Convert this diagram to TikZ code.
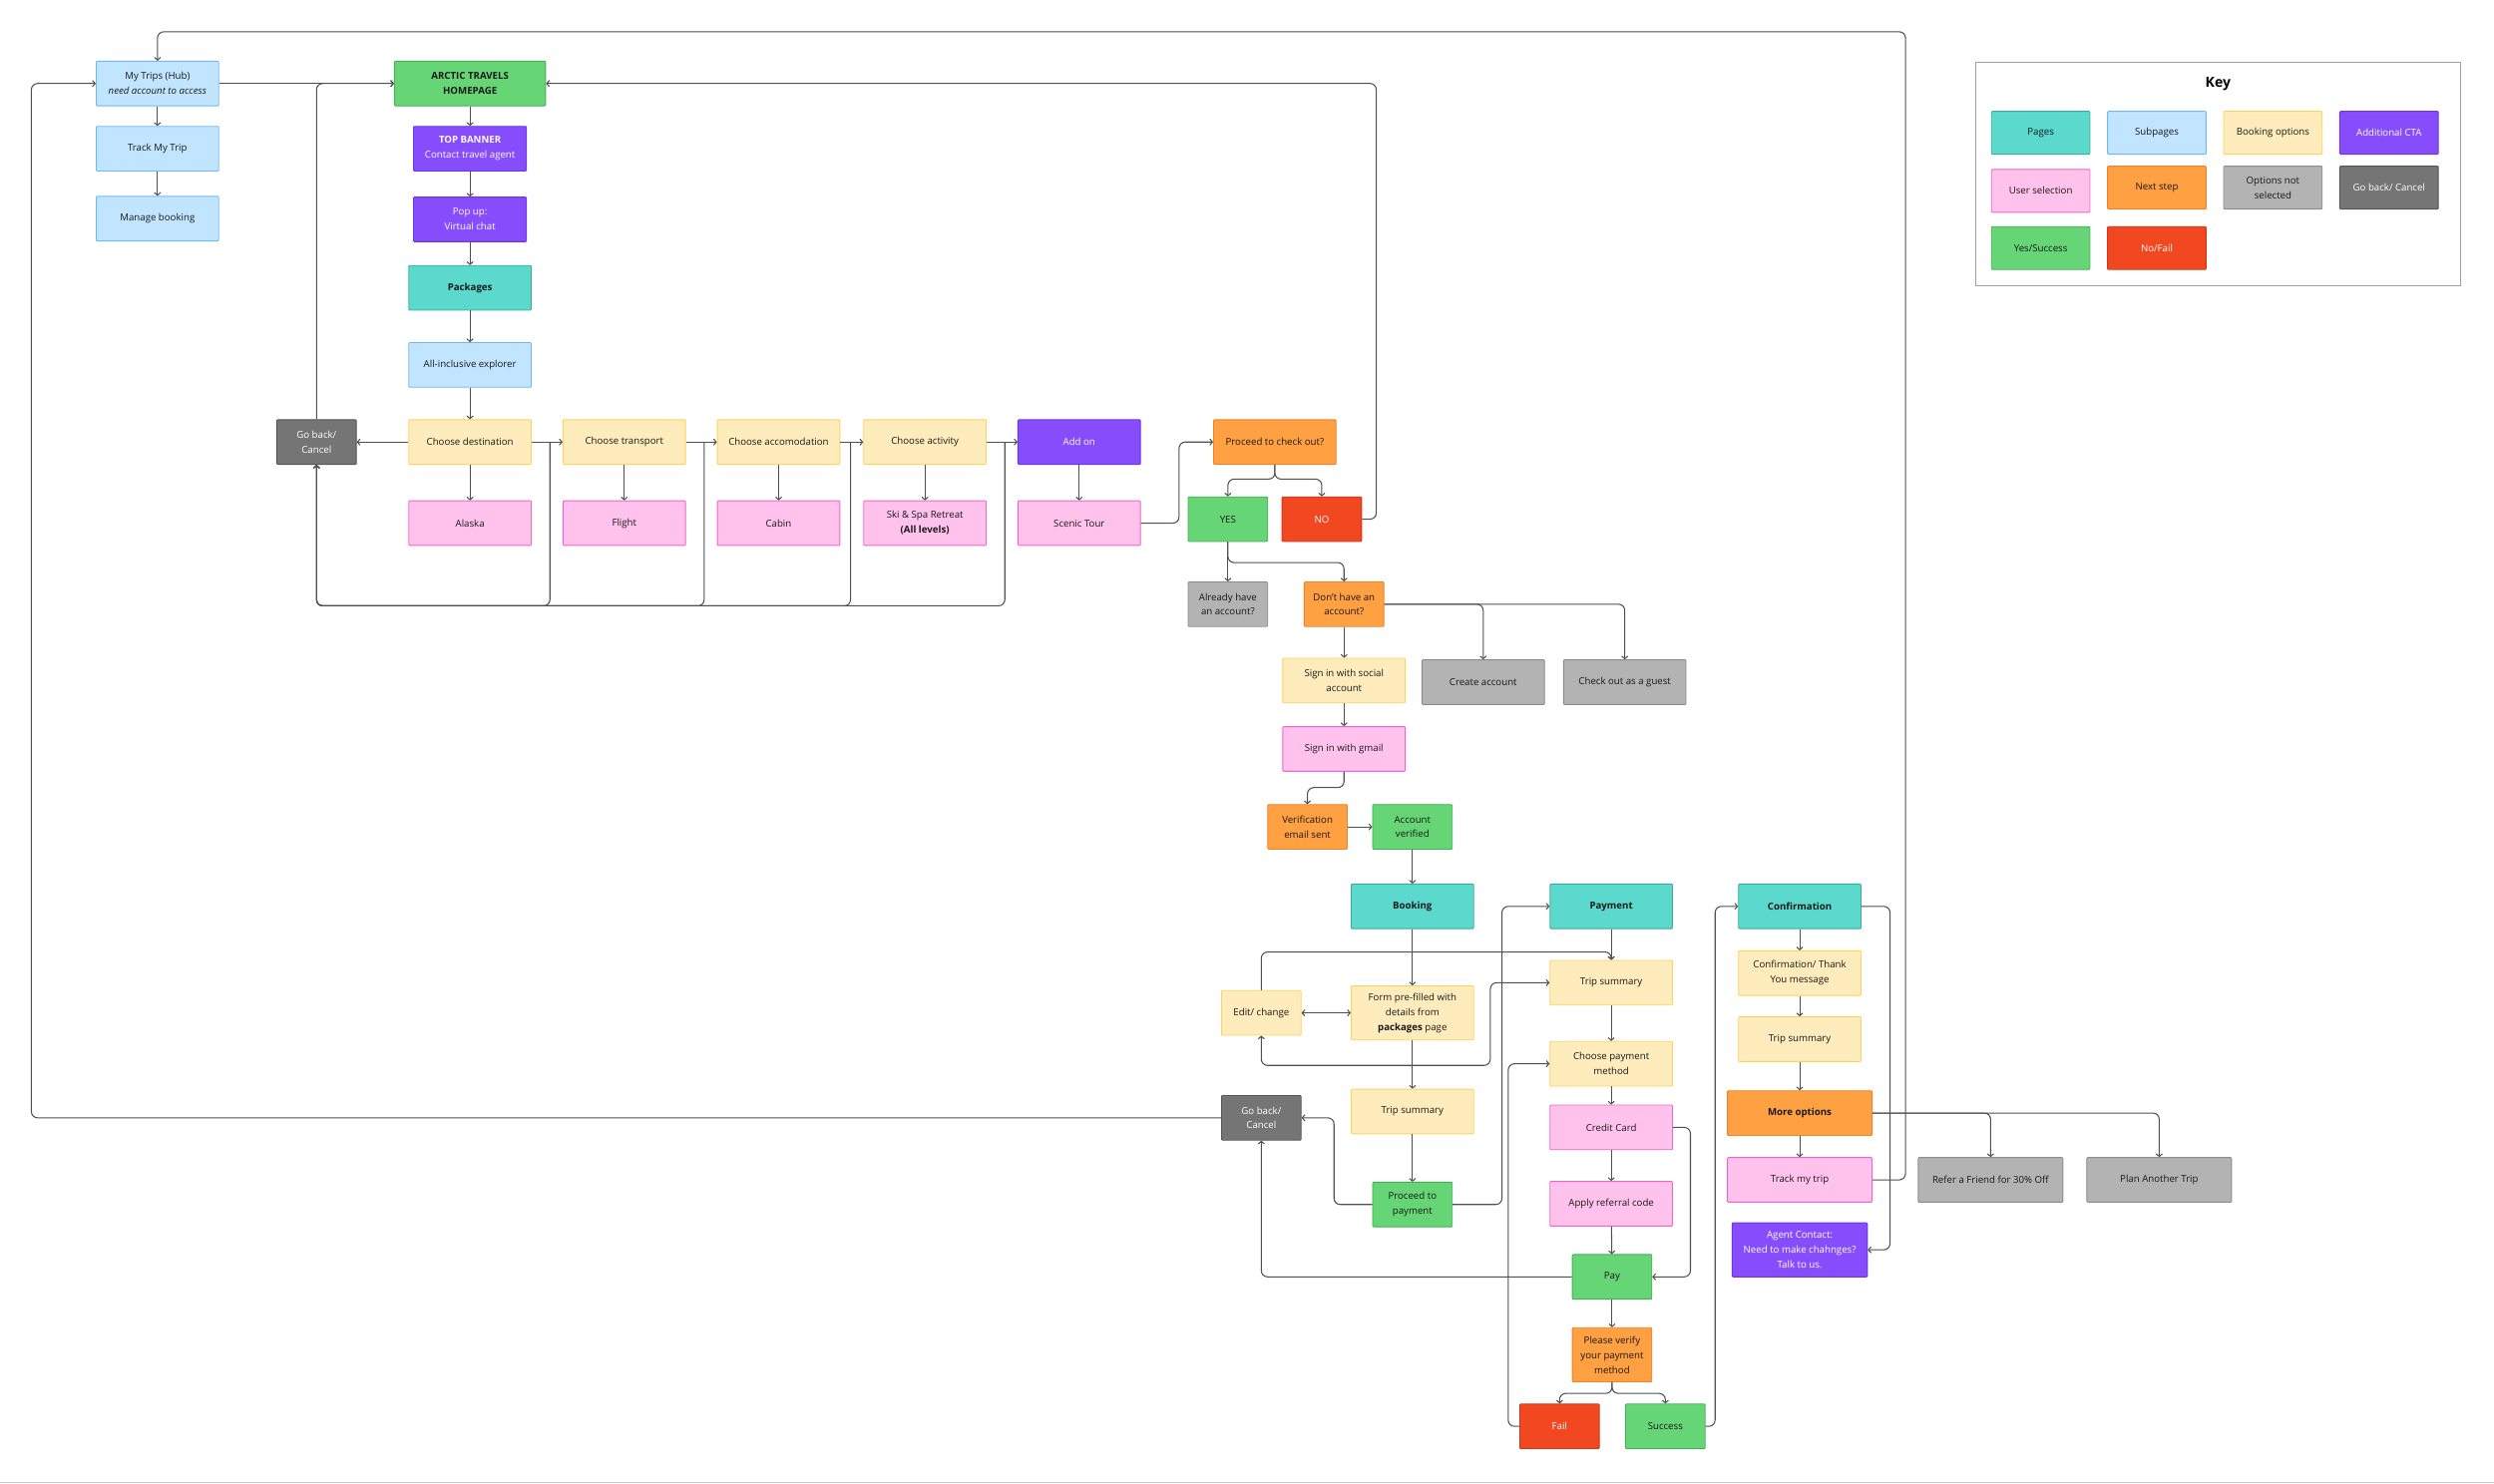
\documentclass[tikz,border=0pt]{standalone}
\usepackage{fontspec}
\setmainfont{Open Sans}
\usetikzlibrary{arrows.meta, positioning, calc}
\definecolor{pagefill}{RGB}{90, 217, 204}
\definecolor{pageline}{RGB}{60, 170, 160}
\definecolor{subfill}{RGB}{194, 229, 255}
\definecolor{subline}{RGB}{110, 185, 245}
\definecolor{optfill}{RGB}{255, 236, 189}
\definecolor{optline}{RGB}{255, 210, 90}
\definecolor{ctafill}{RGB}{135, 76, 252}
\definecolor{ctaline}{RGB}{110, 55, 220}
\definecolor{selfill}{RGB}{255, 194, 236}
\definecolor{selline}{RGB}{240, 100, 200}
\definecolor{nextfill}{RGB}{255, 160, 67}
\definecolor{nextline}{RGB}{240, 130, 40}
\definecolor{notfill}{RGB}{179, 179, 179}
\definecolor{notline}{RGB}{140, 140, 140}
\definecolor{backfill}{RGB}{117, 117, 117}
\definecolor{backline}{RGB}{85, 85, 85}
\definecolor{yesfill}{RGB}{102, 213, 117}
\definecolor{yesline}{RGB}{70, 175, 85}
\definecolor{nofill}{RGB}{242, 72, 34}
\definecolor{noline}{RGB}{210, 55, 25}
\definecolor{linegray}{RGB}{80, 80, 80}
\definecolor{keyline}{RGB}{160, 160, 160}
\definecolor{textdark}{RGB}{25, 25, 25}
\newcommand{\boxfont}{\fontsize{11}{17}\selectfont}
\tikzstyle{base} = [rectangle, rounded corners=1pt, minimum width=4.91cm, minimum height=1.79cm, text centered, align=center, line width=1pt, inner sep=1pt, font=\boxfont, text=textdark]
\tikzstyle{pagebox} = [base, fill=pagefill, draw=pageline, font=\boxfont\bfseries]
\tikzstyle{subbox} = [base, fill=subfill, draw=subline]
\tikzstyle{optbox} = [base, fill=optfill, draw=optline]
\tikzstyle{ctabox} = [base, fill=ctafill, draw=ctaline, text=white]
\tikzstyle{selbox} = [base, fill=selfill, draw=selline]
\tikzstyle{nextbox} = [base, fill=nextfill, draw=nextline]
\tikzstyle{notbox} = [base, fill=notfill, draw=notline]
\tikzstyle{backbox} = [base, fill=backfill, draw=backline, text=white]
\tikzstyle{yesbox} = [base, fill=yesfill, draw=yesline]
\tikzstyle{nobox} = [base, fill=nofill, draw=noline, text=white]
\tikzstyle{narrow} = [minimum width=3.19cm]
\tikzstyle{wide} = [minimum width=5.8cm]
\tikzstyle{tall} = [minimum height=2.17cm]
\tikzstyle{keybox} = [minimum width=3.95cm, minimum height=1.72cm]
\tikzstyle{arrow} = [->, >={Straight Barb[length=3pt,width=7pt]}, line width=1.2pt, draw=linegray, rounded corners=0.25cm]

\begin{document}
\begin{tikzpicture}[x=0.063776cm, y=-0.063776cm]
\useasboundingbox (0,0) rectangle (1568,933);

% My trips hub (left column)
\node (mytrips) [subbox] at (99,52.5) {My Trips (Hub)\\\textit{need account to access}};
\node (tracktrip) [subbox] at (99,93.5) {Track My Trip};
\node (manage) [subbox] at (99,137.5) {Manage booking};

% Homepage and packages
\node (home) [yesbox, minimum width=6.06cm, font=\boxfont\bfseries] at (295.5,52.5) {ARCTIC TRAVELS\\HOMEPAGE};
\node (banner) [ctabox, minimum width=4.53cm] at (295.5,93.5) {\textbf{TOP BANNER}\\Contact travel agent};
\node (popup) [ctabox, minimum width=4.53cm] at (295.5,138) {Pop up:\\Virtual chat};
\node (packages) [pagebox] at (295.5,181) {Packages};
\node (allinc) [subbox] at (295.5,229.5) {All-inclusive explorer};

% Booking choices
\node (goback1) [backbox, narrow] at (199,278) {Go back/\\Cancel};
\node (dest) [optbox] at (295.5,278) {Choose destination};
\node (transport) [optbox] at (392.5,278) {Choose transport};
\node (accom) [optbox] at (489.5,278) {Choose accomodation};
\node (activity) [optbox] at (581.5,278) {Choose activity};
\node (addon) [ctabox] at (678.5,278) {Add on};
\node (alaska) [selbox] at (295.5,329) {Alaska};
\node (flight) [selbox] at (392.5,329) {Flight};
\node (cabin) [selbox] at (489.5,329) {Cabin};
\node (ski) [selbox] at (581.5,329) {Ski \& Spa Retreat\\\textbf{(All levels)}};
\node (scenic) [selbox] at (678.5,329) {Scenic Tour};

% Check out and account
\node (checkout) [nextbox] at (801.5,278) {Proceed to check out?};
\node (yes) [yesbox, narrow] at (772,326.5) {YES};
\node (no) [nobox, narrow] at (831,326.5) {NO};
\node (already) [notbox, narrow] at (772,380) {Already have\\an account?};
\node (donthave) [nextbox, narrow] at (845,380) {Don’t have an\\account?};
\node (social) [optbox] at (845,428) {Sign in with social\\account};
\node (create) [notbox] at (932.5,429) {Create account};
\node (guest) [notbox] at (1021.5,429) {Check out as a guest};
\node (gmail) [selbox] at (845,471) {Sign in with gmail};
\node (verif) [nextbox, narrow] at (822,520) {Verification\\email sent};
\node (verified) [yesbox, narrow] at (888,520) {Account\\verified};

% Booking page
\node (booking) [pagebox] at (888,570) {Booking};
\node (form) [optbox, tall] at (888,637) {Form pre-filled with\\details from\\\textbf{packages} page};
\node (edit) [optbox, narrow] at (793,637) {Edit/ change};
\node (tripsum1) [optbox] at (888,699) {Trip summary};
\node (goback2) [backbox, narrow] at (793,703) {Go back/\\Cancel};
\node (proceedpay) [yesbox, narrow] at (888,757.5) {Proceed to\\payment};

% Payment page
\node (payment) [pagebox] at (1013,570) {Payment};
\node (tripsum2) [optbox] at (1013,618) {Trip summary};
\node (choosepay) [optbox] at (1013,669) {Choose payment\\method};
\node (credit) [selbox] at (1013,709) {Credit Card};
\node (referral) [selbox] at (1013,757) {Apply referral code};
\node (pay) [yesbox, narrow] at (1013.5,803) {Pay};
\node (verify) [nextbox, narrow, tall] at (1013.5,852) {Please verify\\your payment\\method};
\node (fail) [nobox, narrow] at (980.5,897) {Fail};
\node (success) [yesbox, narrow] at (1047,897) {Success};

% Confirmation page
\node (confirm) [pagebox] at (1131.5,570) {Confirmation};
\node (thanks) [optbox] at (1131.5,612) {Confirmation/ Thank\\You message};
\node (tripsum3) [optbox] at (1131.5,653.5) {Trip summary};
\node (more) [nextbox, wide, font=\boxfont\bfseries] at (1131.5,700) {More options};
\node (tracktrip2) [selbox, wide] at (1131.5,742) {Track my trip};
\node (agent) [ctabox, tall, minimum width=5.42cm] at (1131.5,786) {Agent Contact:\\Need to make chahnges?\\Talk to us.};
\node (refer) [notbox, wide] at (1251.5,742) {Refer a Friend for 30\% Off};
\node (plan) [notbox, wide] at (1357.5,742) {Plan Another Trip};

% Key
\node (keyframe) [draw=keyline, line width=1.2pt, minimum width=19.45cm, minimum height=8.99cm] at (1394.5,109.5) {};
\node (keytitle) at (1394.5,52.5) {\fontsize{16}{18}\selectfont\bfseries Key};
\node (keypages) [pagebox, keybox, font=\boxfont] at (1283,83.5) {Pages};
\node (keysub) [subbox, keybox] at (1356,83.5) {Subpages};
\node (keyopt) [optbox, keybox] at (1429,83.5) {Booking options};
\node (keycta) [ctabox, keybox] at (1502,83.5) {Additional CTA};
\node (keysel) [selbox, keybox] at (1283,120) {User selection};
\node (keynext) [nextbox, keybox] at (1356,118) {Next step};
\node (keynot) [notbox, keybox] at (1429,118) {Options not\\selected};
\node (keyback) [backbox, keybox] at (1502,118) {Go back/ Cancel};
\node (keyyes) [yesbox, keybox] at (1283,156) {Yes/Success};
\node (keyno) [nobox, keybox] at (1356,156) {No/Fail};

% Hub and homepage links
\draw [arrow] (mytrips) -- (tracktrip);
\draw [arrow] (tracktrip) -- (manage);
\draw [arrow] (mytrips.east) -- (home.west);
\draw [arrow] (goback1.north) |- (home.west);
\draw [arrow] (no.east) -- ++(9,0) |- (home.east);
\draw [arrow] (tracktrip2.east) -| (1198,20) -| (mytrips.north);
\draw [arrow] (goback2.west) -- ++(-748,0) |- (mytrips.west);
\draw [arrow] (home) -- (banner);
\draw [arrow] (banner) -- (popup);
\draw [arrow] (popup) -- (packages);
\draw [arrow] (packages) -- (allinc);
\draw [arrow] (allinc) -- (dest);

% Booking choices flow
\draw [arrow] (dest) -- (goback1);
\draw [arrow] (dest) -- (transport);
\draw [arrow] (transport) -- (accom);
\draw [arrow] (accom) -- (activity);
\draw [arrow] (activity) -- (addon);
\draw [arrow] (dest) -- (alaska);
\draw [arrow] (transport) -- (flight);
\draw [arrow] (accom) -- (cabin);
\draw [arrow] (activity) -- (ski);
\draw [arrow] (addon) -- (scenic);
\draw [arrow] ($(transport.west)+(-8,0)$) -- ++(0,103) -| (goback1.south);
\draw [arrow] ($(accom.west)+(-8,0)$) -- ++(0,103) -| (goback1.south);
\draw [arrow] ($(activity.west)+(-8,0)$) -- ++(0,103) -| (goback1.south);
\draw [arrow] ($(addon.west)+(-8,0)$) -- ++(0,103) -| (goback1.south);
\draw [arrow] (scenic.east) -- ++(24,0) |- (checkout.west);

% Check out and account
\draw [arrow] (checkout.south) -- ++(0,9) -| (yes.north);
\draw [arrow] (checkout.south) -- ++(0,9) -| (no.north);
\draw [arrow] (yes) -- (already);
\draw [arrow] (yes.south) -- ++(0,13) -| (donthave.north);
\draw [arrow] (donthave.east) -| (create.north);
\draw [arrow] (donthave.east) -| (guest.north);
\draw [arrow] (donthave) -- (social);
\draw [arrow] (social) -- (gmail);
\draw [arrow] (gmail.south) -- ++(0,10) -| (verif.north);
\draw [arrow] (verif) -- (verified);
\draw [arrow] (verified) -- (booking);

% Booking page
\draw [arrow] (booking) -- (form);
\draw [arrow] (form) -- (tripsum1);
\draw [arrow, <->] (edit) -- (form);
\draw [arrow] (edit.north) -- ++(0,-24) -| (tripsum2.north);
\draw [arrow, <->] (edit.south) |- (937,670) |- (tripsum2.west);
\draw [arrow] (tripsum1) -- (proceedpay);
\draw [arrow] (proceedpay.west) -- ++(-24,0) |- (goback2.east);
\draw [arrow] (proceedpay.east) -- ++(31,0) |- (payment.west);

% Payment page
\draw [arrow] (payment) -- (tripsum2);
\draw [arrow] (tripsum2) -- (choosepay);
\draw [arrow] (choosepay) -- (credit);
\draw [arrow] (credit) -- (referral);
\draw [arrow] (referral) -- (pay);
\draw [arrow] (pay) -- (verify);
\draw [arrow] (credit.east) -- ++(11,0) |- (pay.east);
\draw [arrow] (pay.west) -| (goback2.south);
\draw [arrow] (verify.south) -- ++(0,7) -| (fail.north);
\draw [arrow] (verify.south) -- ++(0,7) -| (success.north);
\draw [arrow] (fail.west) -- ++(-7,0) |- (choosepay.west);
\draw [arrow] (success.east) -- ++(6,0) |- (confirm.west);

% Confirmation page
\draw [arrow] (confirm) -- (thanks);
\draw [arrow] (thanks) -- (tripsum3);
\draw [arrow] (tripsum3) -- (more);
\draw [arrow] (more) -- (tracktrip2);
\draw [arrow] (confirm.east) -- ++(18,0) |- (agent.east);
\draw [arrow] (more.east) -| (refer.north);
\draw [arrow] (more.east) -| (plan.north);

\draw [draw=black!20, line width=1pt] (0,932) -- (1568,932);

\end{tikzpicture}
\end{document}
